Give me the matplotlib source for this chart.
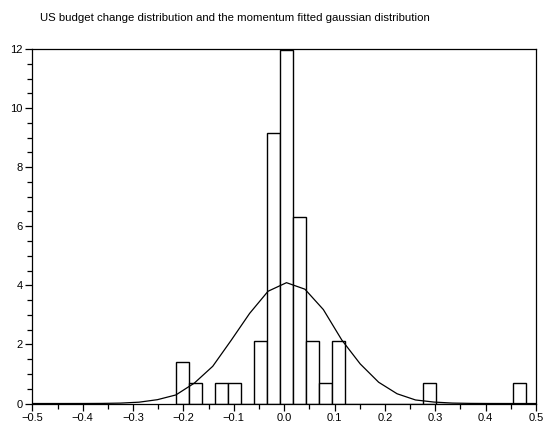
import matplotlib
matplotlib.use("Agg")
import matplotlib.pyplot as plt
from matplotlib.ticker import MultipleLocator

plt.rcParams['font.family'] = ['Liberation Sans', 'DejaVu Sans']

# Histogram (density) data
bin_start = -0.215
bin_width = 0.02578
bar_heights = [1.41, 0.70, 0.0, 0.70, 0.70, 0.0, 2.11, 9.14, 11.95, 6.33, 2.11, 0.70, 2.11,
               0.0, 0.0, 0.0, 0.0, 0.0, 0.0, 0.70, 0.0, 0.0, 0.0, 0.0, 0.0, 0.0, 0.70]

# Fitted gaussian curve (vertices)
curve_x = [-0.5, -0.4712, -0.4346, -0.398, -0.3614, -0.3248, -0.2882, -0.2516, -0.215, -0.1784,
           -0.1418, -0.1052, -0.0686, -0.032, 0.0046, 0.0412, 0.0778, 0.1144, 0.151, 0.1876,
           0.2242, 0.2608, 0.2974, 0.334, 0.3706, 0.4072, 0.4438, 0.4804, 0.5]
curve_y = [0.0, 0.0, 0.0002, 0.0008, 0.0036, 0.014, 0.045, 0.13, 0.29, 0.69,
           1.26, 2.14, 3.05, 3.80, 4.09, 3.87, 3.18, 2.15, 1.34, 0.72,
           0.33, 0.12, 0.049, 0.015, 0.004, 0.001, 0.0002, 0.0, 0.0]

title = "US budget change distribution and the momentum fitted gaussian distribution"

fig = plt.figure(figsize=(5.45, 4.29), dpi=100)
ax = fig.add_axes([0.0593, 0.0594, 0.9242, 0.8264])

lefts = [bin_start + i * bin_width for i in range(len(bar_heights))]
ax.bar(lefts, bar_heights, width=bin_width, align='edge', facecolor='white',
       edgecolor='black', linewidth=1.0, zorder=2)
ax.plot(curve_x, curve_y, color='black', linewidth=0.9, zorder=3)

ax.set_xlim(-0.5, 0.5)
ax.set_ylim(0, 12)
ax.xaxis.set_major_locator(MultipleLocator(0.1))
ax.xaxis.set_minor_locator(MultipleLocator(0.05))
ax.yaxis.set_major_locator(MultipleLocator(2))
ax.yaxis.set_minor_locator(MultipleLocator(0.5))
ax.tick_params(which='major', direction='out', length=5, width=0.9, labelsize=8, pad=2)
ax.tick_params(which='minor', direction='out', length=3.5, width=0.9)
ax.xaxis.set_major_formatter(matplotlib.ticker.FuncFormatter(lambda v, p: f"{v:.1f}".replace('-', '\u2212')))
for s in ax.spines.values():
    s.set_linewidth(0.9)

fig.text(40.5 / 545, 1 - 18 / 429, title, fontsize=8.2, ha='left', va='center')

fig.savefig("out.png", dpi=100)
